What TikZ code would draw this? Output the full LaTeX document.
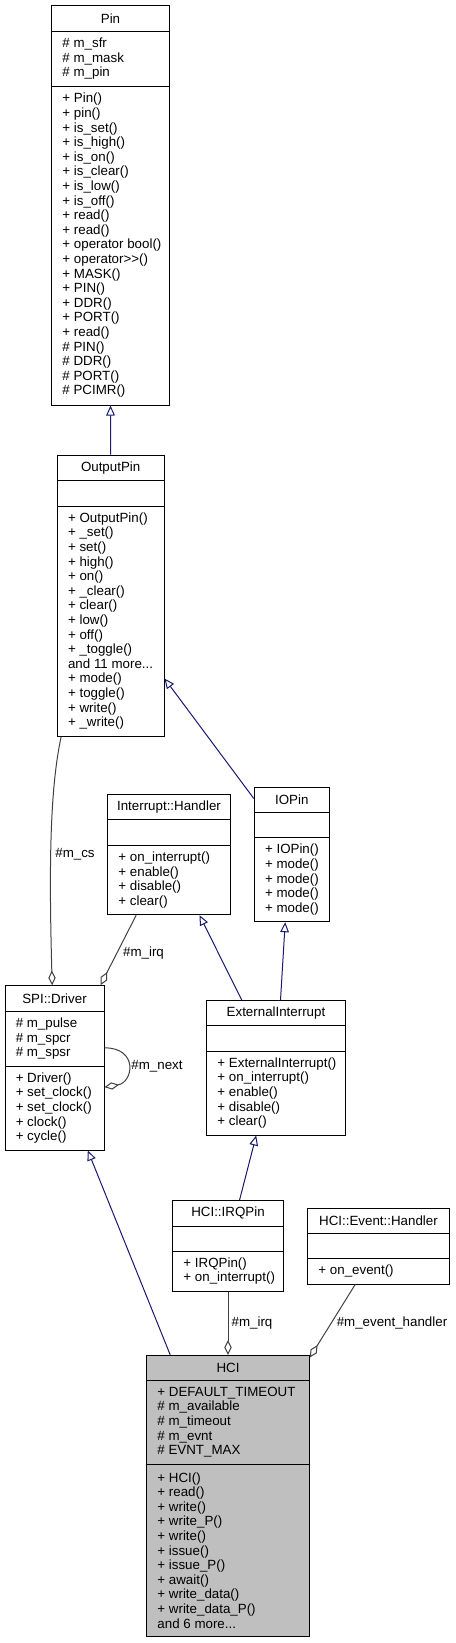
\documentclass[tikz,border=0pt]{standalone}
\usepackage{fontspec}
\setmainfont{Liberation Sans}
\usetikzlibrary{arrows.meta,calc,fit}
\definecolor{inhblue}{HTML}{191970}
\definecolor{agggray}{HTML}{404040}
\definecolor{hcigray}{HTML}{BFBFBF}
\newcommand\umlcls[9]{%
  \node[box,#8,fit={(#2,#3) (#4,#5)}] (#1) {};
  \draw[box] (#2,#6) -- (#4,#6) (#2,#7) -- (#4,#7);
  \node[ttl] (#1-title) at ($(#2,#3)!0.5!(#4,#6)$) {#9};
}
\begin{document}
\begin{tikzpicture}[x=0.75pt,y=-0.75pt,
  font=\fontsize{10}{10.95}\selectfont,
  box/.style={draw=black, line width=0.75pt, inner sep=0pt},
  ttl/.style={inner sep=0pt, anchor=center},
  mem/.style={inner sep=0pt, anchor=west, align=left},
  lbl/.style={inner sep=0pt, anchor=center},
  inh/.style={draw=inhblue, line width=0.75pt, -{Triangle[fill=white,length=7.5pt,width=6.5pt]}},
  agg/.style={draw=agggray, line width=0.75pt, -{Diamond[fill=white,length=11pt,width=5.5pt]}}]
\useasboundingbox (0,0) rectangle (455,1643);

% Pin
\umlcls{pin}{51.7}{5.3}{169.3}{405}{31.7}{86}{}{Pin}
\node[mem] (pin-a) at (62.2,58.85) {\# m\_sfr\\\# m\_mask\\\# m\_pin};
\node[mem] (pin-m) at (62.2,245.5) {+ Pin()\\+ pin()\\+ is\_set()\\+ is\_high()\\+ is\_on()\\+ is\_clear()\\+ is\_low()\\+ is\_off()\\+ read()\\+ read()\\+ operator bool()\\+ operator>{}>()\\+ MASK()\\+ PIN()\\+ DDR()\\+ PORT()\\+ read()\\\# PIN()\\\# DDR()\\\# PORT()\\\# PCIMR()};

% OutputPin
\umlcls{outpin}{57.3}{455}{164}{736}{480.7}{506}{}{OutputPin}
\node[mem] (outpin-m) at (67.8,621) {+ OutputPin()\\+ \_set()\\+ set()\\+ high()\\+ on()\\+ \_clear()\\+ clear()\\+ low()\\+ off()\\+ \_toggle()\\and 11 more...\\+ mode()\\+ toggle()\\+ write()\\+ \_write()};

% Interrupt::Handler
\umlcls{ih}{107.7}{794.7}{230.3}{914.7}{819.7}{845.3}{}{Interrupt::Handler}
\node[mem] (ih-m) at (118.2,880) {+ on\_interrupt()\\+ enable()\\+ disable()\\+ clear()};

% IOPin
\umlcls{iopin}{254.3}{787.3}{329.3}{921.7}{812.7}{837.7}{}{IOPin}
\node[mem] (iopin-m) at (264.8,879.7) {+ IOPin()\\+ mode()\\+ mode()\\+ mode()\\+ mode()};

% SPI::Driver
\umlcls{spi}{5}{985.7}{104}{1150}{1011.3}{1066}{}{SPI::Driver}
\node[mem] (spi-a) at (15.5,1038.65) {\# m\_pulse\\\# m\_spcr\\\# m\_spsr};
\node[mem] (spi-m) at (15.5,1108) {+ Driver()\\+ set\_clock()\\+ set\_clock()\\+ clock()\\+ cycle()};

% ExternalInterrupt
\umlcls{ei}{206.7}{1000.7}{345.3}{1135}{1025.7}{1051}{}{ExternalInterrupt}
\node[mem] (ei-m) at (217.2,1093) {+ ExternalInterrupt()\\+ on\_interrupt()\\+ enable()\\+ disable()\\+ clear()};

% HCI::IRQPin
\umlcls{irq}{172.7}{1200.7}{283.3}{1291}{1226}{1251.3}{}{HCI::IRQPin}
\node[mem] (irq-m) at (183.2,1271.15) {+ IRQPin()\\+ on\_interrupt()};

% HCI::Event::Handler
\umlcls{eh}{307.7}{1208.3}{449.3}{1284}{1233.3}{1258.7}{}{HCI::Event::Handler}
\node[mem] (eh-m) at (318.2,1271.35) {+ on\_event()};

% HCI
\umlcls{hci}{146.7}{1355.3}{309.3}{1636.7}{1380.3}{1464}{fill=hcigray}{HCI}
\node[mem] (hci-a) at (157.2,1422.15) {+ DEFAULT\_TIMEOUT\\\# m\_available\\\# m\_timeout\\\# m\_evnt\\\# EVNT\_MAX};
\node[mem] (hci-m) at (157.2,1550.35) {+ HCI()\\+ read()\\+ write()\\+ write\_P()\\+ write()\\+ issue()\\+ issue\_P()\\+ await()\\+ write\_data()\\+ write\_data\_P()\\and 6 more...};

% inheritance
\draw[inh] (outpin.north) -- (pin.south);
\draw[inh] ($(iopin.north west)+(0,11.7)$) -- ($(outpin.south east)+(0,-58)$);
\draw[inh] ($(ei.north west)+(35.6,0)$) -- ($(ih.south west)+(92.3,0)$);
\draw[inh] ($(ei.north west)+(74.3,0)$) -- ($(iopin.south west)+(31.4,0)$);
\draw[inh] ($(irq.north west)+(67.3,0)$) -- ($(ei.south west)+(50,0)$);
\draw[inh] ($(hci.north west)+(24,0)$) -- ($(spi.south west)+(83.3,0)$);

% aggregation
\draw[agg] ($(outpin.south west)+(4.4,0)$) .. controls +(-12,55) and +(-3,-110) .. ($(spi.north west)+(47.7,0)$);
\node[lbl] (lcs) at (75,854) {\#m\_cs};
\draw[agg] ($(ih.south west)+(29,0)$) -- ($(spi.north east)+(-4,0)$);
\node[lbl] (lirq1) at (143.5,953) {\#m\_irq};
\draw[agg] ($(spi.north east)+(0,62.6)$) .. controls +(34,0) and +(29,-5) .. ($(spi.north east)+(0,102)$);
\node[lbl] (lnext) at (157,1066.7) {\#m\_next};
\draw[agg] (irq.south) -- (hci.north);
\node[lbl] (lirq2) at (252,1322.7) {\#m\_irq};
\draw[agg] ($(eh.south west)+(48,0)$) -- ($(hci.north east)+(0,2.7)$);
\node[lbl] (lev) at (392,1322.7) {\#m\_event\_handler};
\end{tikzpicture}
\end{document}
